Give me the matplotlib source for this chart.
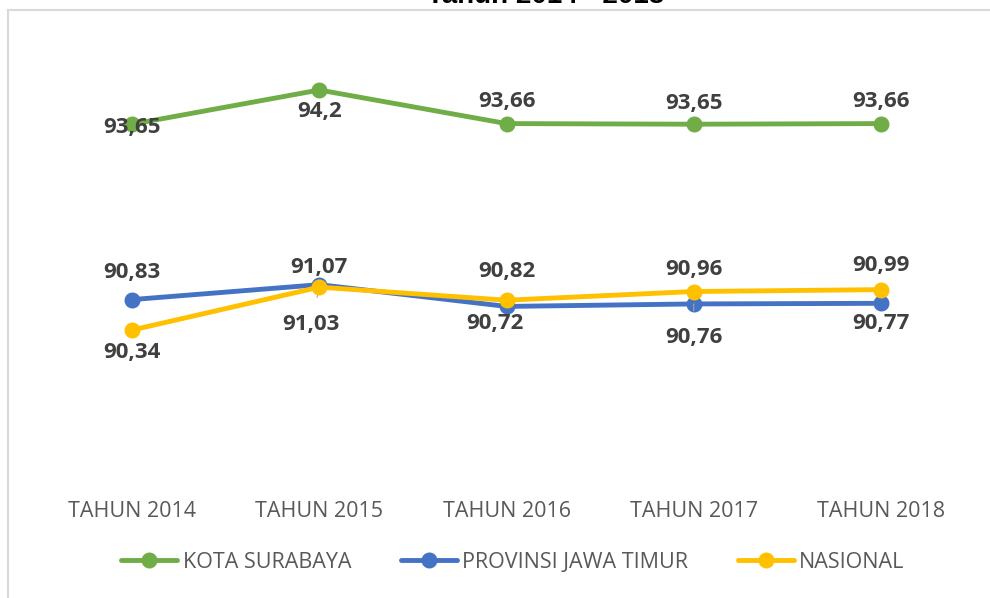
import matplotlib.pyplot as plt
from matplotlib.lines import Line2D

# data
categories = ["TAHUN 2014", "TAHUN 2015", "TAHUN 2016", "TAHUN 2017", "TAHUN 2018"]
surabaya = [93.65, 94.2, 93.66, 93.65, 93.66]
jatim = [90.83, 91.07, 90.72, 90.76, 90.77]
nasional = [90.34, 91.03, 90.82, 90.96, 90.99]
series_names = ["KOTA SURABAYA", "PROVINSI JAWA TIMUR", "NASIONAL"]

# label offsets in pixels (dx, dy down-positive)
surabaya_off = [(0, 3), (0, 22), (0, -22), (0, -21), (0, -22)]
jatim_off = [(0, -27), (0, -17), (-12, 17), (0, 34), (0, 20)]
nasional_off = [(0, 22), (-8, 37), (0, -29), (0, -22), (0, -24)]
leader = {("nasional", 1), ("jatim", 3)}

colors = ["#70AD47", "#4472C4", "#FFC000"]
label_color = "#404040"
tick_color = "#595959"

fig = plt.figure(figsize=(9.9, 5.98), dpi=100)
ax = fig.add_axes([38.5 / 990, 0.2047, 936 / 990, 0.728])

x = list(range(len(categories)))
all_series = [("surabaya", surabaya, surabaya_off),
              ("jatim", jatim, jatim_off),
              ("nasional", nasional, nasional_off)]

for (key, vals, offs), name, col in zip(all_series, series_names, colors):
    ax.plot(x, vals, color=col, lw=3.5, marker="o", markersize=10.5,
            solid_capstyle="round", label=name, zorder=3)
    for i, v in enumerate(vals):
        dx, dy = offs[i]
        txt = str(v).replace(".", ",")
        props = None
        if (key, i) in leader:
            props = dict(arrowstyle="-", color="#A6A6A6", lw=0.8,
                         shrinkA=10, shrinkB=6)
        ax.annotate(txt, (i, v), xytext=(dx * 0.72, -dy * 0.72),
                    textcoords="offset points", ha="center", va="center",
                    fontsize=16, fontweight="bold", color=label_color,
                    family="Open Sans", arrowprops=props, zorder=4)

ax.set_xlim(-0.5, len(categories) - 0.5)
ax.set_ylim(88, 95)
ax.set_xticks(x)
ax.set_xticklabels(categories, fontsize=15.5, color=tick_color, family="Open Sans")
ax.tick_params(axis="x", length=0, pad=18)
ax.set_yticks([])
for s in ax.spines.values():
    s.set_visible(False)

leg = fig.legend(loc="center", bbox_to_anchor=(0.518, 1 - 562 / 598), ncol=3,
                 frameon=False, handlelength=2.6, columnspacing=2.3,
                 handletextpad=0.25, prop={"family": "Open Sans", "size": 15.5})
for t in leg.get_texts():
    t.set_color(tick_color)

# chart border (cut) and title
fig.add_artist(Line2D([8 / 990, 1], [1 - 10 / 598] * 2, color="#D9D9D9", lw=1.5))
fig.add_artist(Line2D([8 / 990] * 2, [0, 1 - 10 / 598], color="#D9D9D9", lw=1.5))
fig.text(546 / 990, 1 - 3 / 598, "Tahun 2014 - 2018", ha="center", va="baseline",
         fontsize=20, fontweight="bold", family="Liberation Sans", color="black")

fig.savefig("out.png", dpi=100, facecolor="white")
